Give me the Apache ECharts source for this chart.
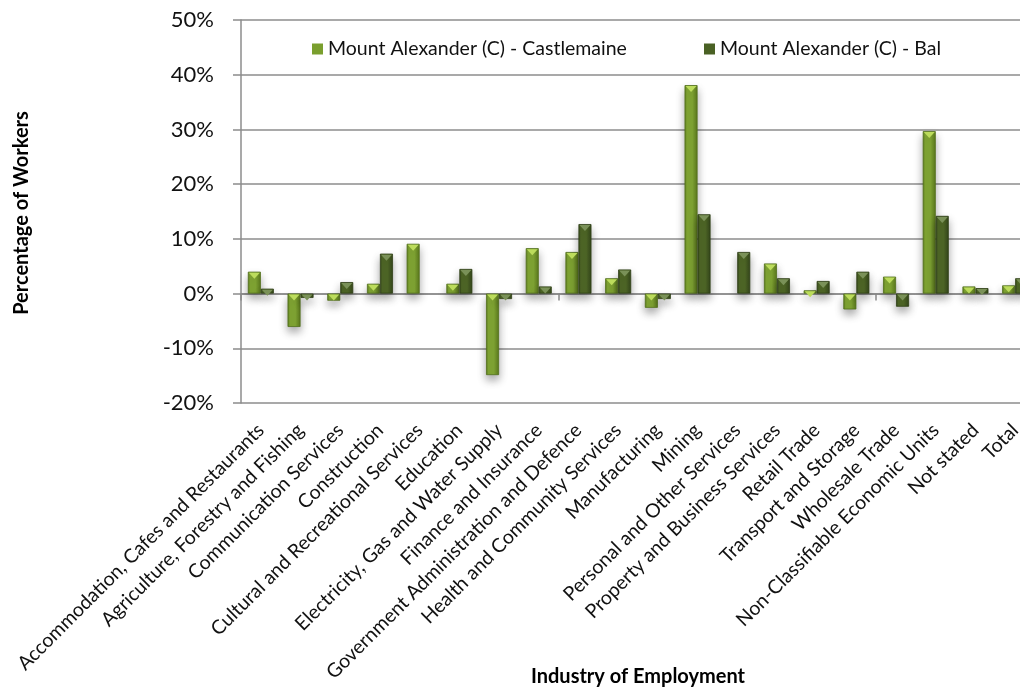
<!DOCTYPE html>
<html>
<head>
<meta charset="utf-8">
<script src="https://cdn.jsdelivr.net/npm/echarts@6/dist/echarts.min.js"></script>
<style>
  html, body { margin: 0; padding: 0; background: #ffffff; }
  #chart { width: 1020px; height: 689px; }
</style>
</head>
<body>
<div id="chart"></div>
<script>
// Industry categories on the horizontal axis
const categories = [
  'Accommodation, Cafes and Restaurants',
  'Agriculture, Forestry and Fishing',
  'Communication Services',
  'Construction',
  'Cultural and Recreational Services',
  'Education',
  'Electricity, Gas and Water Supply',
  'Finance and Insurance',
  'Government Administration and Defence',
  'Health and Community Services',
  'Manufacturing',
  'Mining',
  'Personal and Other Services',
  'Property and Business Services',
  'Retail Trade',
  'Transport and Storage',
  'Wholesale Trade',
  'Non-Classifiable Economic Units',
  'Not stated',
  'Total'
];

// Percentage of workers, per industry
const castlemaine = [4.0, -6.1, -1.3, 1.8, 9.1, 1.8, -14.9, 8.3, 7.6, 2.8, -2.6, 38.1, null, 5.5, 0.6, -2.9, 3.1, 29.7, 1.3, 1.5];
const bal = [0.9, -0.8, 2.1, 7.3, null, 4.5, -1.0, 1.3, 12.7, 4.4, -1.0, 14.5, 7.6, 2.8, 2.3, 4.0, -2.4, 14.2, 1.0, 2.8];

const seriesNames = ['Mount Alexander (C) - Castlemaine', 'Mount Alexander (C) - Bal'];

// Value axis range and tick step (percent)
const yMin = -20, yMax = 50, yStep = 10;

const FONT = 'Lato, "Open Sans", sans-serif';

function bevel(edge, mid) {
  return new echarts.graphic.LinearGradient(0, 0, 1, 0, [
    { offset: 0, color: edge },
    { offset: 0.18, color: mid },
    { offset: 0.6, color: mid },
    { offset: 1, color: edge }
  ]);
}
const lightFill = bevel('#5a781c', '#80a533');
const darkFill = bevel('#33451a', '#4e6626');

// Top facet sits at the upper end of each bar (zero line for negative bars)
function topFacet(values) {
  return values.map(v => (v == null ? '-' : Math.max(v, 0)));
}

const BAR_W = 13;
const SQUARE = 'path://M0,0L10,0L10,10L0,10Z';

const chart = echarts.init(document.getElementById('chart'), null, { renderer: 'canvas' });

const legendText = { fontFamily: FONT, fontSize: 19.5, color: '#111' };

chart.setOption({
  animation: false,
  backgroundColor: '#ffffff',
  textStyle: { fontFamily: FONT },
  grid: { left: 241, top: 20, right: -15, bottom: 286, containLabel: false, outerBoundsMode: 'none' },
  legend: [
    {
      data: [{ name: seriesNames[0], itemStyle: { color: '#7a9f2e', borderWidth: 0 } }],
      icon: SQUARE, left: 307, top: 34,
      itemWidth: 11, itemHeight: 11, itemGap: 0, textStyle: legendText
    },
    {
      data: [{ name: seriesNames[1], itemStyle: { color: '#4a6124', borderWidth: 0 } }],
      icon: SQUARE, left: 699, top: 34,
      itemWidth: 11, itemHeight: 11, itemGap: 0, textStyle: legendText
    }
  ],
  xAxis: [
    {
      type: 'category', data: categories, position: 'bottom',
      axisLine: { show: false, onZero: false },
      axisTick: { show: false },
      splitLine: { show: false },
      axisLabel: {
        interval: 0, rotate: 45, margin: 24, hideOverlap: false,
        fontFamily: FONT, fontSize: 19.5, color: '#111'
      }
    },
    {
      type: 'category', data: categories, position: 'bottom',
      axisLine: { show: true, onZero: true, lineStyle: { color: '#8c8c8c', width: 1.5 } },
      axisTick: { show: true, length: 7, lineStyle: { color: '#8c8c8c', width: 1.5 } },
      axisLabel: { show: false },
      splitLine: { show: false }
    }
  ],
  yAxis: {
    type: 'value', min: yMin, max: yMax, interval: yStep,
    axisLine: { show: true, lineStyle: { color: '#8c8c8c', width: 1.5 } },
    axisTick: { show: true, length: 8, lineStyle: { color: '#8c8c8c', width: 1.5 } },
    splitLine: { show: true, lineStyle: { color: '#8c8c8c', width: 1.5 } },
    axisLabel: {
      formatter: '{value}%', margin: 27,
      fontFamily: FONT, fontSize: 22, color: '#111'
    }
  },
  graphic: [
    {
      type: 'text', x: 22, y: 213, rotation: Math.PI / 2,
      style: {
        text: 'Percentage of Workers', fill: '#000',
        font: 'bold 20px ' + FONT, align: 'center', verticalAlign: 'middle'
      }
    },
    {
      type: 'text', x: 638, y: 677,
      style: {
        text: 'Industry of Employment', fill: '#000',
        font: 'bold 20px ' + FONT, align: 'center', verticalAlign: 'middle'
      }
    }
  ],
  series: [
    {
      name: seriesNames[0], type: 'bar', xAxisIndex: 0,
      data: castlemaine, barWidth: BAR_W, barGap: '0%', z: 2,
      itemStyle: {
        color: lightFill, borderColor: '#52701a', borderWidth: 0.8,
        shadowColor: 'rgba(0,0,0,0.35)', shadowBlur: 8, shadowOffsetY: 5
      }
    },
    {
      name: seriesNames[1], type: 'bar', xAxisIndex: 0,
      data: bal, barWidth: BAR_W, barGap: '0%', z: 2,
      itemStyle: {
        color: darkFill, borderColor: '#2e3f15', borderWidth: 0.8,
        shadowColor: 'rgba(0,0,0,0.35)', shadowBlur: 8, shadowOffsetY: 5
      }
    },
    {
      type: 'pictorialBar', xAxisIndex: 0, silent: true,
      data: topFacet(castlemaine), barWidth: BAR_W, barGap: '0%', z: 3,
      symbol: 'triangle', symbolRotate: 180, symbolSize: [BAR_W - 2, 6],
      symbolPosition: 'end', symbolOffset: [0, 1],
      itemStyle: { color: '#bcdc5c' }
    },
    {
      type: 'pictorialBar', xAxisIndex: 0, silent: true,
      data: topFacet(bal), barWidth: BAR_W, barGap: '0%', z: 3,
      symbol: 'triangle', symbolRotate: 180, symbolSize: [BAR_W - 2, 6],
      symbolPosition: 'end', symbolOffset: [0, 1],
      itemStyle: { color: '#7a9158' }
    }
  ]
});
</script>
</body>
</html>
